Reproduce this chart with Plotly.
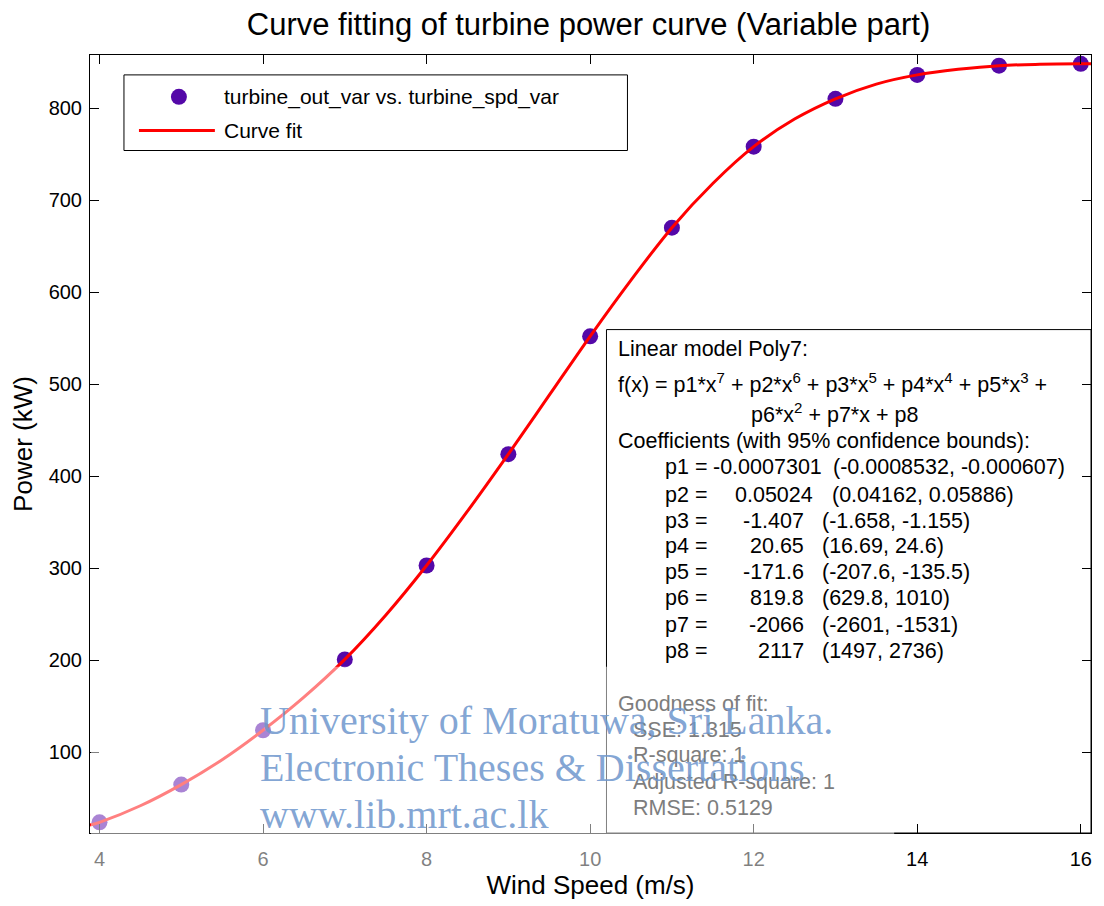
import plotly.graph_objects as go

# ---------------- data ----------------
wind_speed = [4, 5, 6, 7, 8, 9, 10, 11, 12, 13, 14, 15, 16]
power_kw = [24, 65, 124, 201, 303, 424, 552, 670, 758, 810, 836, 846, 848]

fit_x = [3.884, 4, 4.5, 5, 5.5, 6, 6.5, 7, 7.5, 8, 8.5, 9, 9.5, 10, 10.5, 11,
         11.5, 12, 12.5, 13, 13.5, 14, 14.5, 15, 15.5, 16, 16.125]
fit_y = [21, 24, 42, 65, 92, 124, 160, 201, 249, 303, 362, 424, 488, 552, 613,
         670, 718, 758, 788, 810, 826, 836, 842, 846, 847.5, 848, 848]

x_ticks = [4, 6, 8, 10, 12, 14, 16]
y_ticks = [100, 200, 300, 400, 500, 600, 700, 800]

title_text = "Curve fitting of turbine power curve (Variable part)"
x_title = "Wind Speed (m/s)"
y_title = "Power (kW)"
legend_labels = ["turbine_out_var vs. turbine_spd_var", "Curve fit"]

model_lines = [
    "Linear model Poly7:",
    "f(x) = p1*x<sup>7</sup> + p2*x<sup>6</sup> + p3*x<sup>5</sup> + p4*x<sup>4</sup> + p5*x<sup>3</sup> +",
]
model_cont = "p6*x<sup>2</sup> + p7*x + p8"
coef_header = "Coefficients (with 95% confidence bounds):"
coef_names = ["p1 =", "p2 =", "p3 =", "p4 =", "p5 =", "p6 =", "p7 =", "p8 ="]
coef_values = ["-0.0007301", "0.05024", "-1.407", "20.65", "-171.6", "819.8", "-2066", "2117"]
coef_bounds = ["(-0.0008532, -0.000607)", "(0.04162, 0.05886)", "(-1.658, -1.155)",
               "(16.69, 24.6)", "(-207.6, -135.5)", "(629.8, 1010)", "(-2601, -1531)",
               "(1497, 2736)"]
gof_header = "Goodness of fit:"
gof_lines = ["SSE: 1.315", "R-square: 1", "Adjusted R-square: 1", "RMSE: 0.5129"]

watermark = ["University of Moratuwa, Sri Lanka.", "Electronic Theses & Dissertations",
             "www.lib.mrt.ac.lk"]

# ---------------- layout helpers ----------------
W, H = 1104, 906
PL, PR, PT, PB = 90, 1092, 55, 837
FONT = "Liberation Sans, Arial, Helvetica, sans-serif"
BOX = 21.5


def px(x):
    return (x - PL) / (PR - PL)


def py(y):
    return (PB - y) / (PB - PT)


fig = go.Figure()
fig.add_trace(go.Scatter(
    x=wind_speed, y=power_kw, mode="markers", name=legend_labels[0],
    marker=dict(color="rgb(84,8,168)", size=16, line=dict(width=0)),
    showlegend=False))
fig.add_trace(go.Scatter(
    x=fit_x, y=fit_y, mode="lines", name=legend_labels[1],
    line=dict(color="#ff0000", width=3, shape="spline"), showlegend=False))

shapes = []
annotations = []

# fit-result text box
shapes.append(dict(type="rect", xref="paper", yref="paper", layer="below",
                   x0=px(607), x1=px(1092), y0=py(837), y1=py(331),
                   fillcolor="white", line=dict(color="black", width=1)))

# legend box (drawn by hand to match the original)
shapes.append(dict(type="rect", xref="paper", yref="paper", layer="above",
                   x0=px(124), x1=px(628), y0=py(151), y1=py(75),
                   fillcolor="white", line=dict(color="black", width=1)))
shapes.append(dict(type="circle", xref="paper", yref="paper", layer="above",
                   x0=px(171), x1=px(187), y0=py(105), y1=py(89),
                   fillcolor="rgb(84,8,168)", line=dict(width=0)))
shapes.append(dict(type="line", xref="paper", yref="paper", layer="above",
                   x0=px(139), x1=px(215), y0=py(131), y1=py(131),
                   line=dict(color="#ff0000", width=3)))


def txt(x, y, s, size=BOX, color="black", anchor="left", family=FONT):
    annotations.append(dict(xref="paper", yref="paper", x=px(x), y=py(y), text=s,
                            showarrow=False, xanchor=anchor, yanchor="middle",
                            font=dict(family=family, size=size, color=color)))


txt(222, 97, legend_labels[0], size=21)
txt(222, 131, legend_labels[1], size=21)

txt(617, 351, model_lines[0])
txt(617, 385, model_lines[1])
txt(750, 415, model_cont)
txt(617, 443, coef_header)
row_y = [469, 497, 523, 549, 575, 601, 628, 654]
val_right = [825, 816, 807, 807, 807, 807, 807, 807]
bnd_left = [832, 831, 821, 821, 821, 821, 821, 821]
for i in range(8):
    txt(664, row_y[i], coef_names[i])
    txt(val_right[i], row_y[i], coef_values[i], anchor="right")
    txt(bnd_left[i], row_y[i], coef_bounds[i])

GREY = "rgb(125,125,125)"
txt(617, 707, gof_header, color=GREY)
for s, y in zip(gof_lines, [733, 759, 786, 812]):
    txt(632, y, s, color=GREY)

# repository watermark: translucent white veil plus blue serif text
shapes.append(dict(type="rect", xref="paper", yref="paper", layer="above",
                   x0=px(91), x1=px(895), y0=py(872), y1=py(670),
                   fillcolor="rgba(255,255,255,0.5)", line=dict(width=0)))
WM = "rgba(110,150,205,0.85)"
SERIF = "Liberation Serif, Times New Roman, serif"
txt(258, 724, watermark[0], size=40, color=WM, family=SERIF)
txt(258, 771, watermark[1], size=40, color=WM, family=SERIF)
txt(258, 818, watermark[2], size=40, color=WM, family=SERIF)

fig.update_layout(
    width=W, height=H,
    margin=dict(l=PL, r=W - PR, t=PT, b=H - PB),
    paper_bgcolor="white", plot_bgcolor="white",
    font=dict(family=FONT, color="black"),
    title=dict(text=title_text, x=px(589), xref="paper", xanchor="center",
               y=1 - 24 / H, yref="container", yanchor="middle",
               font=dict(size=31, color="black")),
    shapes=shapes, annotations=annotations, showlegend=False,
)
axis_common = dict(showline=True, linecolor="black", linewidth=1, mirror="allticks",
                   ticks="inside", ticklen=9, tickcolor="black", tickwidth=1,
                   showgrid=False, zeroline=False, tickfont=dict(size=20, color="black"))
fig.update_xaxes(range=[3.884, 16.125], tickvals=x_ticks, ticktext=[str(v) for v in x_ticks],
                 ticklabelstandoff=8,
                 title=dict(text=x_title, font=dict(size=26), standoff=6), **axis_common)
fig.update_yaxes(range=[12.4, 857.6], tickvals=y_ticks, ticktext=[str(v) for v in y_ticks],
                 ticklabelstandoff=3,
                 title=dict(text=y_title, font=dict(size=26), standoff=8), **axis_common)

fig.write_html("out.html", config={"displayModeBar": False},
               post_script="document.body.style.margin='0';")
